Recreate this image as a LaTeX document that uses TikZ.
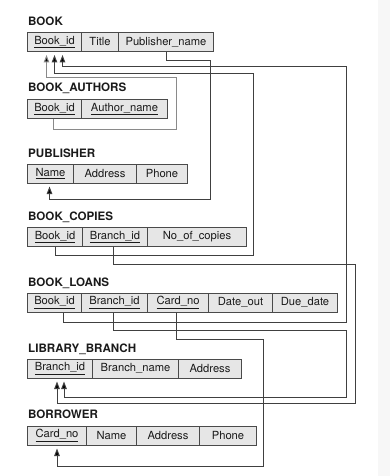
\documentclass[tikz,border=0pt]{standalone}
\usepackage{fontspec}
\setmainfont{TeX Gyre Heros}
\usetikzlibrary{arrows.meta}
\definecolor{linecol}{HTML}{4A4A4A}
\definecolor{conncol}{HTML}{404040}
\definecolor{lightconn}{HTML}{8A8A8A}
\definecolor{cellfill}{HTML}{E6E6E6}
\definecolor{txtcol}{HTML}{1A1A1A}
\definecolor{stripcol}{HTML}{F7F7F7}
\newcommand{\ky}[1]{\raisebox{1.8pt}{\underline{#1}}}
\tikzset{
  cell/.style={draw=linecol, line width=1pt, fill=cellfill, inner sep=0pt, anchor=west,
    minimum height=19pt, text=txtcol, font=\fontsize{11.2}{12}\selectfont},
  reltitle/.style={anchor=west, inner sep=0pt, text=txtcol, font=\fontsize{11.6}{13}\selectfont\bfseries},
  conn/.style={draw=conncol, line width=1pt, -{Triangle[length=7.5pt,width=5.5pt,fill=black]}},
  lconn/.style={conn, draw=lightconn}
}
\begin{document}
\begin{tikzpicture}[x=1pt,y=-1pt]
\useasboundingbox (0,0) rectangle (390,476);
\fill[stripcol] (378,0) rectangle (390,476);

% BOOK
\node[reltitle] (t-book) at (28,21) {BOOK};
\node[cell, minimum width=54pt] (b-id) at (27,42) {\ky{Book\_id}};
\node[cell, minimum width=37pt] (b-title) at (81,42) {Title};
\node[cell, minimum width=95pt] (b-pub) at (118,42) {Publisher\_name};

% BOOK_AUTHORS
\node[reltitle] (t-ba) at (28,88) {BOOK\_AUTHORS};
\node[cell, minimum width=54pt] (ba-id) at (27,109) {\ky{Book\_id}};
\node[cell, minimum width=86pt] (ba-name) at (81,109) {\ky{Author\_name}};

% PUBLISHER
\node[reltitle] (t-pub) at (28,153) {PUBLISHER};
\node[cell, minimum width=46pt] (p-name) at (27,173.5) {\ky{Name}};
\node[cell, minimum width=63pt] (p-addr) at (73,173.5) {Address};
\node[cell, minimum width=51pt] (p-phone) at (136,173.5) {Phone};

% BOOK_COPIES
\node[reltitle] (t-bc) at (28,217) {BOOK\_COPIES};
\node[cell, minimum width=55pt] (bc-id) at (27,237) {\ky{Book\_id}};
\node[cell, minimum width=65pt] (bc-br) at (82,237) {\ky{Branch\_id}};
\node[cell, minimum width=99pt] (bc-no) at (147,237) {No\_of\_copies};

% BOOK_LOANS
\node[reltitle] (t-bl) at (28,283) {BOOK\_LOANS};
\node[cell, minimum width=54pt] (bl-id) at (27,302.5) {\ky{Book\_id}};
\node[cell, minimum width=66pt] (bl-br) at (81,302.5) {\ky{Branch\_id}};
\node[cell, minimum width=61pt] (bl-card) at (147,302.5) {\ky{Card\_no}};
\node[cell, minimum width=64pt] (bl-out) at (208,302.5) {Date\_out};
\node[cell, minimum width=65pt] (bl-due) at (272,302.5) {Due\_date};

% LIBRARY_BRANCH
\node[reltitle] (t-lb) at (28,349) {LIBRARY\_BRANCH};
\node[cell, minimum width=65pt] (lb-id) at (27,368.5) {\ky{Branch\_id}};
\node[cell, minimum width=86pt] (lb-name) at (92,368.5) {Branch\_name};
\node[cell, minimum width=63pt] (lb-addr) at (178,368.5) {Address};

% BORROWER
\node[reltitle] (t-bo) at (28,414) {BORROWER};
\node[cell, minimum width=59pt] (bo-card) at (27,435.5) {\ky{Card\_no}};
\node[cell, minimum width=50pt] (bo-name) at (86,435.5) {Name};
\node[cell, minimum width=63pt] (bo-addr) at (136,435.5) {Address};
\node[cell, minimum width=57pt] (bo-phone) at (199,435.5) {Phone};

% connectors
\draw[lconn] ([xshift=-1pt]ba-id.south) -- ++(0,10) -| (176,78) -| ([xshift=-8pt,yshift=-3pt]b-id.south);
\draw[conn] (bc-id.south) -- ++(0,8) -| (253,74) -| ([yshift=-3pt]b-id.south);
\draw[conn] ([xshift=9pt]bl-id.south) -- ++(0,10) -| (346,67) -| ([xshift=8pt,yshift=-3pt]b-id.south);
\draw[conn] (b-pub.south) -- ++(0,9) -| (210,199) -| ([xshift=-1pt,yshift=-3pt]p-name.south);
\draw[conn] ([xshift=-1.5pt]bc-br.south) -- ++(0,17) -| (355,403) -| ([xshift=-3pt,yshift=-3pt]lb-id.south);
\draw[conn] ([xshift=-1pt]bl-br.south) -- ++(0,18) -| (346,397) -| ([xshift=4pt,yshift=-3pt]lb-id.south);
\draw[conn] ([xshift=-1.5pt]bl-card.south) -- ++(0,27) -| (263,466) -| ([yshift=-3pt]bo-card.south);
\end{tikzpicture}
\end{document}
